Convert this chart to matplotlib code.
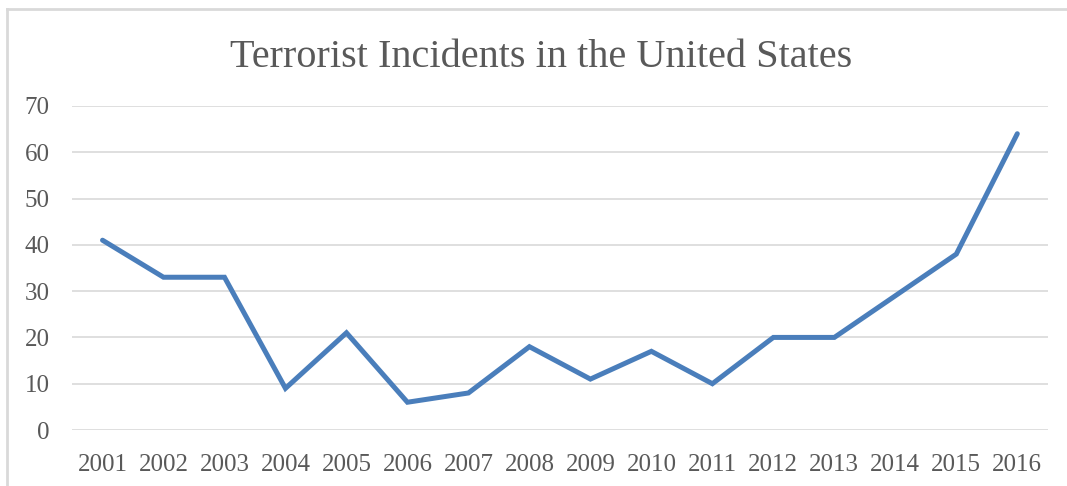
import matplotlib.pyplot as plt
from matplotlib.lines import Line2D

# Incidents per year
years = ['2001', '2002', '2003', '2004', '2005', '2006', '2007', '2008',
         '2009', '2010', '2011', '2012', '2013', '2014', '2015', '2016']
incidents = [41, 33, 33, 9, 21, 6, 8, 18, 11, 17, 10, 20, 20, 29, 38, 64]

text_color = '#595959'
line_color = '#4a7ebb'
grid_color = '#d9d9d9'

plt.rcParams['font.family'] = ['Liberation Serif', 'DejaVu Serif']

fig = plt.figure(figsize=(10.67, 4.86), dpi=100)
ax = fig.add_axes([0.0675, 0.1152, 0.9145, 0.6668])

x = list(range(len(years)))
ax.plot(x, incidents, color=line_color, linewidth=3.6, solid_joinstyle='miter',
        solid_capstyle='round')

ax.set_xlim(-0.5, len(years) - 0.5)
ax.set_ylim(0, 70)
ax.set_yticks(range(0, 71, 10))
ax.set_xticks(x)
ax.set_xticklabels(years)

ax.grid(axis='y', color=grid_color, linewidth=1.2)
ax.set_axisbelow(True)
for s in ax.spines.values():
    s.set_visible(False)
ax.tick_params(length=0, labelsize=18, colors=text_color)
ax.tick_params(axis='y', pad=16)
ax.tick_params(axis='x', pad=17)

fig.suptitle('Terrorist Incidents in the United States', x=0.507, y=0.92,
             fontsize=29, color=text_color)

# chart frame: top and left edges
fig.add_artist(Line2D([0.0066, 1.0], [0.9825, 0.9825], transform=fig.transFigure,
                      color=grid_color, linewidth=2))
fig.add_artist(Line2D([0.0070, 0.0070], [0.0, 0.9825], transform=fig.transFigure,
                      color=grid_color, linewidth=2))

fig.savefig('out.png', dpi=100)
